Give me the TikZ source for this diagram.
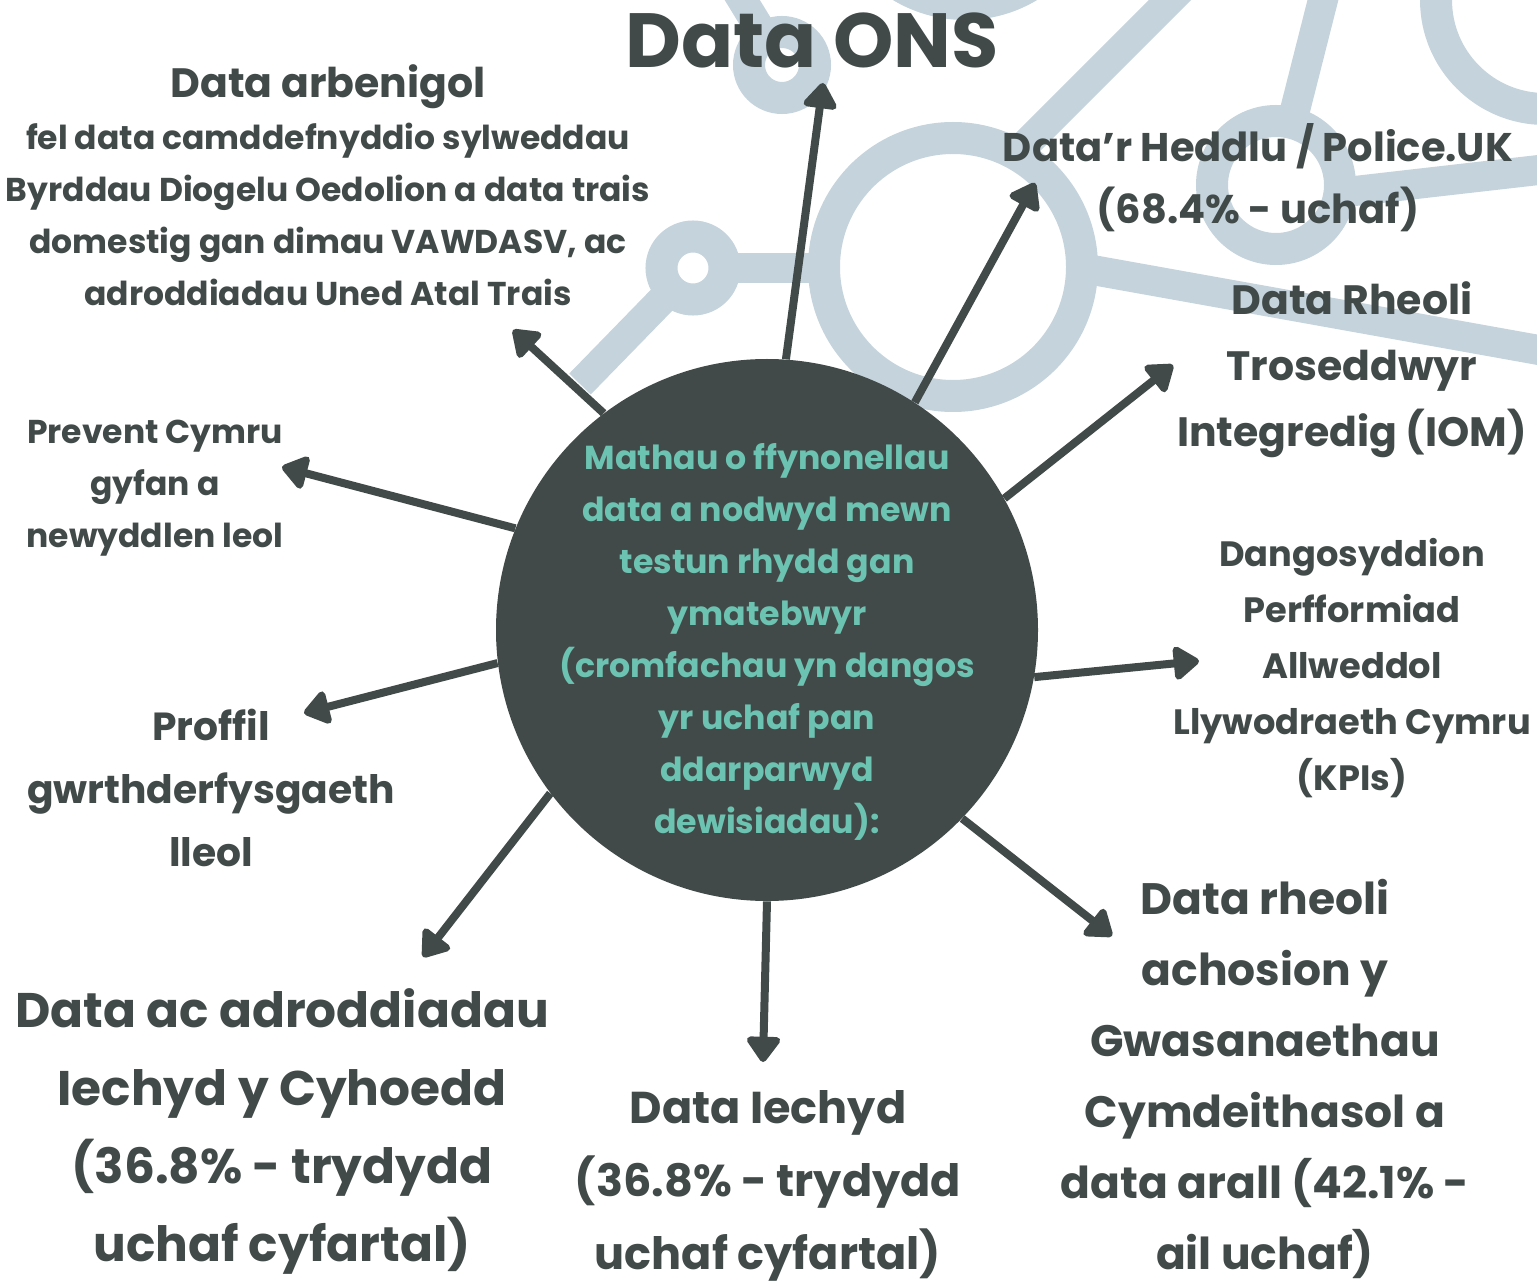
\documentclass[tikz,border=0pt]{standalone}
\usepackage{fontspec}
\setmainfont{Poppins}
\usetikzlibrary{arrows.meta}

\definecolor{slate}{HTML}{414A49}
\definecolor{mint}{HTML}{6CC3B1}
\definecolor{mist}{HTML}{C5D3DC}

\newcommand{\fsz}[2]{\fontsize{#1}{#2}\selectfont}

\begin{document}
\begin{tikzpicture}[x=0.5pt, y=-0.5pt,
	net/.style={mist, line width=15pt},
	ring/.style={draw=mist, fill=white, line width=16pt},
	hub/.style={circle, fill=slate, minimum size=271pt, inner sep=0pt},
	lbl/.style={align=center, text=slate, inner sep=0pt},
	arr/.style={slate, line width=4pt, -{Triangle[round, length=14pt, width=19pt]}}]
	\useasboundingbox (0,0) rectangle (1537,1283);
	\clip (0,0) rectangle (1537,1283);

	% background network
	\draw [net] (1000,170) -- (1190,-20);
	\draw [net] (693,268) -- (953,268);
	\draw [net, line cap=butt] (693,268) -- (580,384);
	\draw [net] (953,245) -- (1600,361);
	\draw [net] (1276,185) -- (1328,-20);
	\draw [net] (1276,200) -- (1600,163);
	\draw [net] (782,65) -- (730,-20);
	\draw [ring] (965,-120) circle [radius=124];
	\draw [ring] (1545,0) circle [radius=109];
	\draw [ring] (953,267) circle [radius=129];
	\draw [ring] (1276,185) circle [radius=64];
	\draw [ring] (693,268) circle [radius=31.5];
	\draw [ring] (782,65) circle [radius=33];

	% hub
	\node [hub] (hub) at (767,630) {};
	\node [align=center, text=mint, inner sep=0pt, font=\bfseries\fsz{16.6pt}{26pt}] (hubtext) at (767,642)
		{Mathau o ffynonellau\\data a nodwyd mewn\\testun rhydd gan\\ymatebwyr\\(cromfachau yn dangos\\yr uchaf pan\\ddarparwyd\\dewisiadau):};

	% sources
	\node [lbl, font=\bfseries\fsz{38.4pt}{40pt}] (ons) at (812,40) {Data ONS};
	\node [lbl, font=\bfseries\fsz{16.5pt}{26pt}] (arb) at (328,185)
		{{\fsz{20.5pt}{28pt}Data arbenigol}\\fel data camddefnyddio sylweddau\\Byrddau Diogelu Oedolion a data trais\\domestig gan dimau VAWDASV, ac\\adroddiadau Uned Atal Trais};
	\node [lbl, font=\bfseries\fsz{20pt}{31pt}] (pol) at (1258,178) {Data’r Heddlu / Police.UK\\(68.4\% - uchaf)};
	\node [lbl, font=\bfseries\fsz{20.5pt}{33pt}] (iom) at (1352,370) {Data Rheoli\\Troseddwyr\\Integredig (IOM)};
	\node [lbl, font=\bfseries\fsz{17.6pt}{28pt}] (kpi) at (1352,668) {Dangosyddion\\Perfformiad\\Allweddol\\Llywodraeth Cymru\\(KPIs)};
	\node [lbl, font=\bfseries\fsz{22pt}{35.5pt}] (gwas) at (1265,1079) {Data rheoli\\achosion y\\Gwasanaethau\\Cymdeithasol a\\data arall (42.1\% -\\ail uchaf)};
	\node [lbl, font=\bfseries\fsz{22.3pt}{36.5pt}] (iech) at (768,1186) {Data Iechyd\\(36.8\% - trydydd\\uchaf cyfartal)};
	\node [lbl, font=\bfseries\fsz{24.3pt}{39pt}] (cyh) at (282,1131) {Data ac adroddiadau\\Iechyd y Cyhoedd\\(36.8\% - trydydd\\uchaf cyfartal)};
	\node [lbl, font=\bfseries\fsz{19.6pt}{31.5pt}] (prof) at (211,788) {Proffil\\gwrthderfysgaeth\\lleol};
	\node [lbl, font=\bfseries\fsz{16.5pt}{26pt}] (prev) at (155,488) {Prevent Cymru\\gyfan a\\newyddlen leol};

	% arrow tips
	\coordinate (tons) at (823,83);
	\coordinate (tpol) at (1035,183);
	\coordinate (tiom) at (1173,365);
	\coordinate (tkpi) at (1199,661);
	\coordinate (tgwas) at (1112,936);
	\coordinate (tiech) at (763,1062);
	\coordinate (tcyh) at (423,957);
	\coordinate (tprof) at (304,713);
	\coordinate (tprev) at (282,467);
	\coordinate (tarb) at (513,330);

	\draw [arr] (hub.86) -- (tons);
	\draw [arr] (hub.57) -- (tpol);
	\draw [arr] (hub.29) -- (tiom);
	\draw [arr] (hub.-10) -- (tkpi);
	\draw [arr] (hub.-44) -- (tgwas);
	\draw [arr] (hub.-90) -- (tiech);
	\draw [arr] (hub.-143) -- (tcyh);
	\draw [arr] (hub.187) -- (tprof);
	\draw [arr] (hub.158) -- (tprev);
	\draw [arr] (hub.127) -- (tarb);

\end{tikzpicture}
\end{document}
